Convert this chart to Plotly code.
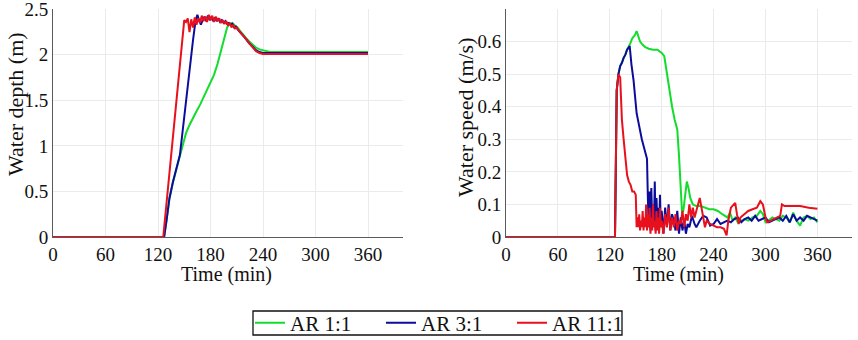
import plotly.graph_objects as go

# ---------------- data ----------------
series_names = ["AR 1:1", "AR 3:1", "AR 11:1"]
series_colors = ["#12dd2c", "#0c0c9c", "#e8101c"]

x_ticks = [0, 60, 120, 180, 240, 300, 360]
depth_ticks = [0, 0.5, 1, 1.5, 2, 2.5]
depth_tick_labels = ["0", "0.5", "1", "1.5", "2", "2.5"]
speed_ticks = [0, 0.1, 0.2, 0.3, 0.4, 0.5, 0.6]
speed_tick_labels = ["0", "0.1", "0.2", "0.3", "0.4", "0.5", "0.6"]

# Water depth (m)
depth_t_11 = [0, 126, 128, 132, 136, 140, 144, 148, 150, 152, 154, 156, 158, 160, 162, 164,
              166, 168, 170, 172, 174, 176, 178, 180, 182, 184, 186, 188, 190, 192, 194,
              196, 198, 200, 202, 204, 206, 208, 210, 212, 214, 216, 218, 220, 224, 228,
              232, 236, 240, 360]
depth_v_11 = [0, 0, 0.2, 0.6, 1.0, 1.4, 1.8, 2.2, 2.38, 2.36, 2.40, 2.25, 2.39, 2.30, 2.41,
              2.33, 2.40, 2.35, 2.43, 2.37, 2.42, 2.36, 2.44, 2.38, 2.43, 2.36, 2.42, 2.37,
              2.40, 2.35, 2.38, 2.34, 2.37, 2.32, 2.35, 2.30, 2.33, 2.29, 2.30, 2.27, 2.25,
              2.22, 2.20, 2.18, 2.13, 2.08, 2.04, 2.02, 2.01, 2.01]

depth_t_3 = [0, 127, 130, 133, 137, 141, 145, 148, 152, 156, 160, 163, 165, 167, 169, 171,
             173, 175, 177, 179, 181, 183, 185, 187, 189, 191, 193, 195, 197, 199, 201,
             203, 205, 207, 209, 211, 213, 216, 220, 224, 228, 232, 236, 240, 244, 360]
depth_v_3 = [0, 0, 0.2, 0.42, 0.6, 0.75, 0.9, 1.15, 1.5, 1.83, 2.16, 2.38, 2.44, 2.38, 2.33,
             2.38, 2.42, 2.37, 2.43, 2.38, 2.42, 2.37, 2.41, 2.37, 2.40, 2.36, 2.38, 2.35,
             2.37, 2.34, 2.35, 2.33, 2.34, 2.30, 2.31, 2.28, 2.26, 2.22, 2.18, 2.13, 2.09,
             2.05, 2.03, 2.02, 2.02, 2.02]

depth_t_1 = [0, 127, 130, 133, 137, 141, 145, 149, 152, 156, 160, 164, 168, 172, 176, 180,
             184, 188, 192, 196, 199, 202, 205, 208, 211, 214, 217, 220, 224, 228, 232,
             236, 240, 244, 248, 360]
depth_v_1 = [0, 0, 0.2, 0.42, 0.6, 0.75, 0.9, 1.05, 1.14, 1.23, 1.31, 1.38, 1.45, 1.53,
             1.61, 1.69, 1.78, 1.90, 2.05, 2.20, 2.30, 2.34, 2.35, 2.32, 2.30, 2.26, 2.22,
             2.19, 2.15, 2.11, 2.08, 2.06, 2.05, 2.04, 2.03, 2.03]

# Water speed (m/s)
speed_t_1 = [0, 126, 128, 130, 132, 134, 136, 138, 140, 143, 146, 149, 151, 153, 155, 158,
             161, 165, 170, 175, 180, 183, 186, 189, 192, 195, 198, 200, 202, 203.5, 205,
             207, 209, 211, 213, 216, 220, 225, 230, 235, 240, 245, 250, 253, 256, 259,
             262, 265, 268, 272, 276, 280, 285, 290, 294, 297, 300, 303, 308, 312, 316,
             320, 324, 328, 332, 336, 340, 344, 348, 352, 356, 360]
speed_v_1 = [0, 0, 0.45, 0.50, 0.525, 0.535, 0.55, 0.56, 0.575, 0.59, 0.61, 0.62, 0.632,
             0.615, 0.60, 0.59, 0.583, 0.578, 0.575, 0.575, 0.565, 0.555, 0.50, 0.44, 0.40,
             0.36, 0.33, 0.25, 0.15, 0.075, 0.08, 0.13, 0.17, 0.15, 0.12, 0.10, 0.095,
             0.095, 0.09, 0.085, 0.085, 0.08, 0.07, 0.065, 0.06, 0.075, 0.05, 0.06, 0.045,
             0.05, 0.055, 0.05, 0.06, 0.065, 0.08, 0.07, 0.045, 0.05, 0.06, 0.055, 0.05,
             0.065, 0.06, 0.045, 0.075, 0.05, 0.035, 0.06, 0.065, 0.055, 0.06, 0.045]

speed_t_3 = [0, 126, 128, 130, 132, 134, 136, 138, 140, 143, 145, 147.5, 151, 154.5, 157,
             159, 162, 163, 164, 165, 166, 167, 168, 169, 170, 171, 172, 173, 174, 175,
             176, 177, 178, 179, 180, 182, 184, 186, 188, 190, 192, 194, 196, 198, 200,
             202, 204, 206, 208, 210, 212, 215, 218, 220, 224, 228, 232, 236, 240, 244,
             248, 252, 256, 260, 264, 268, 272, 276, 280, 284, 288, 292, 296, 300, 304,
             308, 312, 316, 320, 324, 328, 332, 336, 340, 344, 348, 352, 356, 360]
speed_v_3 = [0, 0, 0.45, 0.50, 0.525, 0.535, 0.55, 0.56, 0.575, 0.586, 0.53, 0.48, 0.38,
             0.33, 0.30, 0.28, 0.255, 0.24, 0.12, 0.03, 0.14, 0.02, 0.15, 0.05, 0.10, 0.03,
             0.17, 0.02, 0.12, 0.04, 0.09, 0.02, 0.13, 0.03, 0.08, 0.01, 0.09, 0.03, 0.10,
             0.02, 0.07, 0.05, 0.02, 0.08, 0.01, 0.06, 0.02, 0.05, 0.01, 0.04, 0.03, 0.065,
             0.04, 0.03, 0.05, 0.065, 0.06, 0.035, 0.04, 0.055, 0.04, 0.045, 0.05, 0.045,
             0.055, 0.06, 0.045, 0.055, 0.06, 0.05, 0.065, 0.05, 0.055, 0.06, 0.045, 0.05,
             0.055, 0.06, 0.05, 0.065, 0.045, 0.07, 0.05, 0.06, 0.05, 0.065, 0.06, 0.055,
             0.05]

speed_t_11 = [0, 126, 128, 130, 132, 134, 136, 138, 140, 142, 144, 146, 148, 150, 151, 152,
              153, 154, 155, 156, 157, 158, 159, 160, 161, 162, 163, 164, 165, 166, 167,
              168, 169, 170, 171, 172, 173, 174, 175, 176, 177, 178, 179, 180, 182, 184,
              186, 188, 190, 192, 194, 196, 198, 200, 202, 204, 206, 208, 210, 212, 214,
              216, 218, 220, 222, 224, 226, 228, 230, 232, 236, 240, 244, 248, 252, 255,
              257, 260, 263, 265, 267, 269, 271, 275, 280, 285, 290, 294, 297, 300, 302,
              306, 310, 314, 317, 319, 322, 330, 340, 350, 360]
speed_v_11 = [0, 0, 0.45, 0.50, 0.49, 0.36, 0.30, 0.25, 0.19, 0.17, 0.16, 0.14, 0.14, 0.13,
              0.03, 0.06, 0.03, 0.07, 0.02, 0.05, 0.03, 0.08, 0.02, 0.06, 0.03, 0.10, 0.02,
              0.07, 0.03, 0.09, 0.01, 0.06, 0.02, 0.10, 0.03, 0.05, 0.01, 0.08, 0.02, 0.06,
              0.01, 0.09, 0.03, 0.05, 0.01, 0.07, 0.03, 0.09, 0.02, 0.06, 0.03, 0.07, 0.02,
              0.05, 0.04, 0.08, 0.03, 0.07, 0.05, 0.10, 0.06, 0.09, 0.06, 0.08, 0.10, 0.12,
              0.09, 0.06, 0.03, 0.05, 0.04, 0.035, 0.03, 0.03, 0.025, 0.005, 0.05, 0.09,
              0.10, 0.105, 0.07, 0.04, 0.06, 0.07, 0.08, 0.085, 0.09, 0.11, 0.10, 0.06,
              0.045, 0.05, 0.055, 0.06, 0.065, 0.10, 0.095, 0.095, 0.095, 0.09, 0.087]

# ---------------- figure ----------------
W, H = 858, 340
FONT = "Liberation Serif"
TXT = "#111111"

def px_x(p):
    return p / W

def px_y(p):
    return 1 - p / H

fig = go.Figure()

depth_sets = [(depth_t_1, depth_v_1), (depth_t_3, depth_v_3), (depth_t_11, depth_v_11)]
speed_sets = [(speed_t_1, speed_v_1), (speed_t_3, speed_v_3), (speed_t_11, speed_v_11)]

for i, (t, v) in enumerate(depth_sets):
    fig.add_trace(go.Scatter(x=t, y=v, mode="lines", name=series_names[i],
                             line=dict(color=series_colors[i], width=2),
                             xaxis="x", yaxis="y", showlegend=True))
for i, (t, v) in enumerate(speed_sets):
    fig.add_trace(go.Scatter(x=t, y=v, mode="lines", name=series_names[i],
                             line=dict(color=series_colors[i], width=2),
                             xaxis="x2", yaxis="y2", showlegend=False))

axis_common = dict(showgrid=True, gridcolor="#ebebeb", gridwidth=1, zeroline=False,
                   showline=True, linecolor="#5a5a5a", linewidth=1, ticks="",
                   automargin=False, ticklabeloverflow="allow",
                   tickfont=dict(family=FONT, size=19, color=TXT))

ydom = [px_y(237), px_y(9)]
ann_font = dict(family=FONT, size=20, color=TXT)
fig.update_layout(
    width=W, height=H,
    margin=dict(l=0, r=0, t=0, b=0, autoexpand=False),
    paper_bgcolor="white", plot_bgcolor="white",
    font=dict(family=FONT, size=19, color=TXT),
    xaxis=dict(domain=[px_x(53), px_x(403)], range=[0, 400], tickvals=x_ticks,
               anchor="y", **axis_common),
    yaxis=dict(domain=ydom, range=[0, 2.503], tickvals=depth_ticks,
               ticktext=depth_tick_labels, anchor="x", **axis_common),
    xaxis2=dict(domain=[px_x(506), px_x(852)], range=[0, 400], tickvals=x_ticks,
                anchor="y2", **axis_common),
    yaxis2=dict(domain=ydom, range=[0, 0.7], tickvals=speed_ticks,
                ticktext=speed_tick_labels, anchor="x2", **axis_common),
    legend=dict(orientation="h", x=px_x(250), y=px_y(323), xanchor="left", yanchor="middle",
                borderwidth=0, bgcolor="rgba(0,0,0,0)",
                font=dict(family=FONT, size=21, color=TXT),
                itemwidth=30, entrywidth=86, tracegroupgap=0),
    shapes=[dict(type="rect", xref="paper", yref="paper",
                 x0=px_x(253), x1=px_x(622), y0=px_y(335), y1=px_y(311),
                 line=dict(color="#111111", width=1.3), fillcolor="rgba(0,0,0,0)")],
    annotations=[
        dict(text="Water depth (m)", x=px_x(15), y=px_y(104), xref="paper", yref="paper",
             xanchor="center", yanchor="middle", textangle=-90, showarrow=False,
             font=dict(family=FONT, size=22, color=TXT)),
        dict(text="Water speed (m/s)", x=px_x(465), y=px_y(117), xref="paper", yref="paper",
             xanchor="center", yanchor="middle", textangle=-90, showarrow=False,
             font=dict(family=FONT, size=22, color=TXT)),
        dict(text="Time (min)", x=px_x(227), y=px_y(274), xref="paper", yref="paper",
             xanchor="center", yanchor="middle", showarrow=False, font=ann_font),
        dict(text="Time (min)", x=px_x(678), y=px_y(274), xref="paper", yref="paper",
             xanchor="center", yanchor="middle", showarrow=False, font=ann_font),
    ],
)

fig.write_html("out.html", config={"displayModeBar": False},
               post_script="document.body.style.margin='0';document.body.style.overflow='hidden';")
